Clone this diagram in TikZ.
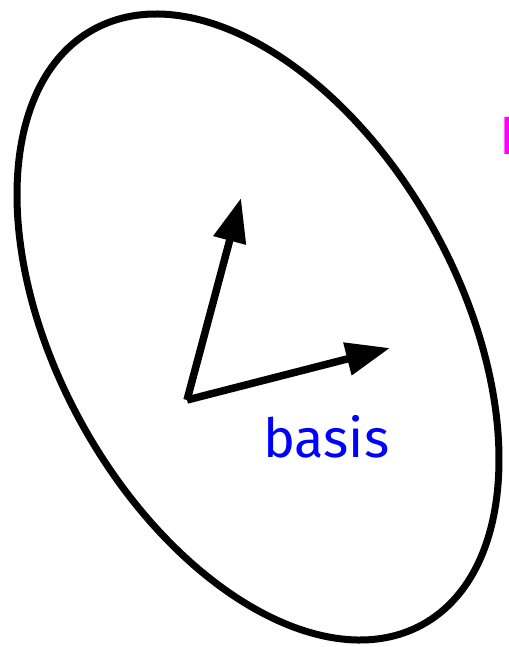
\documentclass[tikz,border=0pt]{standalone}
\usepackage{fontspec}
\setmainfont{Fira Sans}
\usetikzlibrary{positioning,arrows.meta,shapes.geometric}
\definecolor{lblblue}{rgb}{0,0,1}
\definecolor{lblmagenta}{rgb}{1,0,1}

\begin{document}
\begin{tikzpicture}[x=1pt, y=-1pt,
  region/.style={draw, ellipse, line width=7pt, minimum width=680pt, minimum height=402pt, rotate=-61},
  vec/.style={line width=7.5pt, -{Triangle[length=44pt, width=32pt]}},
  lbl/.style={font=\fontsize{54}{58}\selectfont, inner sep=0pt, anchor=base west}]

\useasboundingbox (0,0) rectangle (508,647);

\node[region] (set) at (258,327) {};
\coordinate (o) at (187,400);
\coordinate (e1) at (390,348);
\coordinate (e2) at (241,198);
\draw[vec] (o) -- (e1);
\draw[vec] (o) -- (e2);

\node[lbl, text=lblblue] (basis) at (263,457) {basis};
\node[lbl, text=lblmagenta] (name) at (499,155) {I};

\end{tikzpicture}
\end{document}
